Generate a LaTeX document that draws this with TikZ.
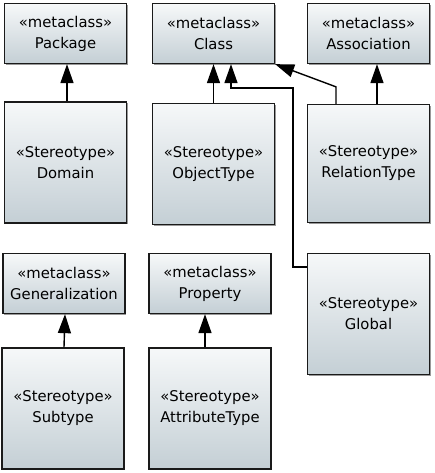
\documentclass[tikz,border=0pt]{standalone}
\usepackage{fontspec}
\setmainfont{DejaVu Sans}
\usepackage{tikz}
\usetikzlibrary{arrows.meta,positioning,calc,shadows}
\definecolor{boxtop}{HTML}{F6F8F9}
\definecolor{boxbot}{HTML}{C4CFD5}
\definecolor{edge}{HTML}{1A1A1A}

\begin{document}
\begin{tikzpicture}[x=1pt, y=-1pt, every node/.style={font=\fontsize{14.8}{21}\selectfont, align=center},
  meta/.style={draw=edge, line width=1.3pt, top color=boxtop, bottom color=boxbot, minimum width=122pt, minimum height=60pt, inner sep=0pt, drop shadow={shadow xshift=1.2pt, shadow yshift=-1.2pt, fill=black!40, opacity=1}},
  stereo/.style={meta, minimum height=121pt},
  gen/.style={-{Triangle[length=19pt, width=13pt]}, line width=1.4pt, black}]
\useasboundingbox (0,0) rectangle (434,473);
% metaclasses
\node[meta] (package) at (65.5,33.5) {«metaclass»\\Package};\node[meta] (class) at (213.5,33.5) {«metaclass»\\Class};\node[meta] (assoc) at (368.5,33.5) {«metaclass»\\Association};
\node[meta] (general) at (64,283.5) {«metaclass»\\Generalization};\node[meta] (property) at (210,283.5) {«metaclass»\\Property};
% stereotypes
\node[stereo] (domain) at (65.5,162.5) {«Stereotype»\\Domain};\node[stereo] (objtype) at (213.5,164) {«Stereotype»\\ObjectType};\node[stereo, minimum height=118pt] (reltype) at (368.5,163.5) {«Stereotype»\\RelationType};
\node[stereo] (global) at (368.5,314) {«Stereotype»\\Global};
\node[stereo] (subtype) at (63,408.5) {«Stereotype»\\Subtype};\node[stereo] (attrtype) at (210,408.5) {«Stereotype»\\AttributeType};
% extensions
\draw[gen] ([xshift=1.5pt]domain.north) -- ([xshift=1.5pt]package.south);
\draw[gen] (objtype) -- (class);
\draw[gen] ([xshift=8.5pt]reltype.north) -- ([xshift=8.5pt]assoc.south);
\draw[gen] ([xshift=-32.5pt]reltype.north) -- ++(0,-17) -- (class.south east);
\draw[gen] ([yshift=-14pt]global.north west) -| ++(-14,-179) -| ([xshift=17.5pt]class.south);
\draw[gen] ([xshift=1pt]subtype.north) -- ([xshift=1pt]general.south);
\draw[gen] ([xshift=-5pt]attrtype.north) -- ([xshift=-5pt]property.south);
\end{tikzpicture}
\end{document}
